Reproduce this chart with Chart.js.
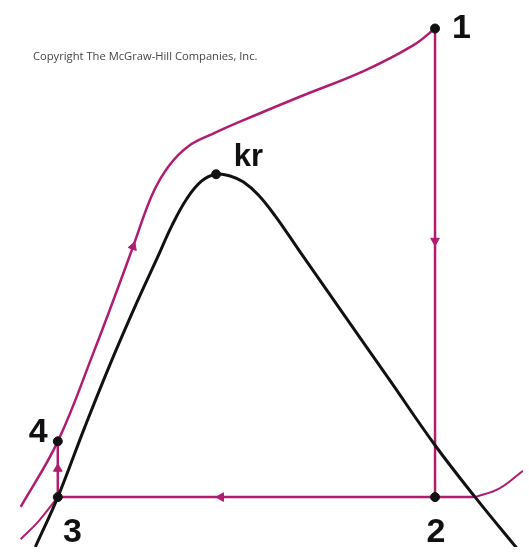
<!DOCTYPE html>
<html>
<head>
<meta charset="utf-8">
<script src="https://cdn.jsdelivr.net/npm/chart.js@4.4.1/dist/chart.umd.min.js"></script>
<style>
  html, body { margin: 0; padding: 0; background: #fff; }
  #wrap { width: 529px; height: 553px; position: relative; }
</style>
</head>
<body>
<div id="wrap"><canvas id="grafico" width="529" height="553"></canvas></div>
<script>
// saturation dome (s, T)
const domeS = [30, 53, 80, 107, 133, 155, 170, 185, 200, 215, 230, 243, 258, 275, 300, 330, 360, 393, 439, 480, 525];
const domeT = [0, 51, 121, 188, 248, 296, 329, 356, 374, 381, 379, 373, 360, 339, 303, 260, 217, 170, 104, 51, -4];

// high pressure line 4 -> 1 (with its tail below 4)
const heatS = [15, 53, 90, 115, 130, 150, 167, 187, 213, 240, 300, 367, 417, 439];
const heatT = [41, 108, 200, 266, 307, 361, 390, 410, 423, 435, 460, 487, 513, 530];

// low pressure isobar tails outside the cycle
const tailLeftS = [15, 33, 53];
const tailLeftT = [8, 26, 51];
const tailRightS = [480, 505, 529];
const tailRightT = [51, 60, 78];

// state points 1, 2, 3, 4, kr
const pointS = [439, 439, 53, 53, 215];
const pointT = [530, 51, 51, 108, 381];

// direction arrows
const arrowS = [439, 220, 53, 130];
const arrowT = [313, 51, 80, 307];
const arrowRot = [180, 270, 0, 20];

// labels
const labelText = ["1", "2", "3", "4", "kr"];
const labelS = [466, 440, 68, 33, 248];
const labelT = [530, 15, 15, 117, 398];

const magenta = '#b01c70';

function xy(s, t) {
    return s.map((v, i) => ({ x: v, y: t[i] }));
}

const labelsPlugin = {
    id: 'etiquetas',
    afterDatasetsDraw(chart) {
        const ctx = chart.ctx;
        const sx = chart.scales.x, sy = chart.scales.y;
        ctx.save();
        ctx.fillStyle = '#111';
        ctx.textAlign = 'center';
        ctx.textBaseline = 'middle';
        labelText.forEach((txt, i) => {
            ctx.font = txt === 'kr' ? 'bold 31px "Liberation Sans", Arial, sans-serif'
                                    : 'bold 34px "Liberation Sans", Arial, sans-serif';
            ctx.fillText(txt, sx.getPixelForValue(labelS[i]), sy.getPixelForValue(labelT[i]));
        });
        // copyright note
        ctx.fillStyle = '#444';
        ctx.font = '11.2px "Open Sans", sans-serif';
        ctx.textAlign = 'left';
        ctx.fillText('Copyright The McGraw-Hill Companies, Inc.', 33, 57);
        ctx.restore();
    }
};

const ctx = document.getElementById("grafico").getContext("2d");

const linija = (label, data, color, width, tension) => ({
    label,
    data,
    borderColor: color,
    borderWidth: width,
    showLine: true,
    tension: tension,
    pointRadius: 0
});

new Chart(ctx, {
    type: 'scatter',
    data: {
        datasets: [
            {
                label: 'stanja',
                data: xy(pointS, pointT),
                backgroundColor: '#111',
                borderColor: '#111',
                pointRadius: 4.5,
                showLine: false
            },
            {
                label: 'strelice',
                data: xy(arrowS, arrowT),
                pointStyle: 'triangle',
                rotation: arrowRot,
                backgroundColor: magenta,
                borderColor: magenta,
                pointRadius: 5,
                showLine: false
            },
            linija('dome', xy(domeS, domeT), '#111', 3, 0.4),
            linija('4-1', xy(heatS, heatT), magenta, 2.5, 0.4),
            linija('1-2', xy([pointS[0], pointS[1]], [pointT[0], pointT[1]]), magenta, 2.5, 0),
            linija('2-3', xy([tailRightS[0], pointS[2]], [pointT[1], pointT[2]]), magenta, 2.5, 0),
            linija('3-4', xy([pointS[2], pointS[3]], [pointT[2], pointT[3]]), magenta, 2.5, 0),
            linija('tail L', xy(tailLeftS, tailLeftT), magenta, 2, 0.4),
            linija('tail R', xy(tailRightS, tailRightT), magenta, 2, 0.4)
        ]
    },
    options: {
        responsive: false,
        animation: false,
        layout: { padding: 0 },
        plugins: {
            legend: { display: false },
            tooltip: { enabled: false }
        },
        scales: {
            x: { type: 'linear', min: 0, max: 529, display: false },
            y: { type: 'linear', min: 0, max: 553, display: false }
        }
    },
    plugins: [labelsPlugin]
});
</script>
</body>
</html>
